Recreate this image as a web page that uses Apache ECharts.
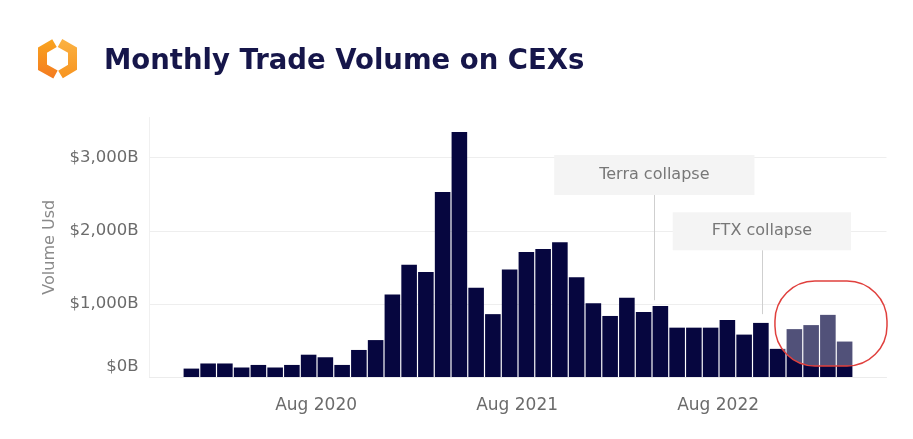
<!DOCTYPE html>
<html>
<head>
<meta charset="utf-8">
<script src="https://cdn.jsdelivr.net/npm/echarts@6/dist/echarts.min.js"></script>
<style>
html,body{margin:0;padding:0;background:#fff;}
#chart{width:913px;height:439px;}
</style>
</head>
<body>
<div id="chart"></div>
<script>
// ---- data ----
const titleText = 'Monthly Trade Volume on CEXs';
const yAxisName = 'Volume Usd';
const padBefore = ['Nov 2019', 'Dec 2019'];
const padAfter = ['May 2023', 'Jun 2023'];
const months = [
  'Jan 2020','Feb 2020','Mar 2020','Apr 2020','May 2020','Jun 2020','Jul 2020','Aug 2020','Sep 2020','Oct 2020','Nov 2020','Dec 2020',
  'Jan 2021','Feb 2021','Mar 2021','Apr 2021','May 2021','Jun 2021','Jul 2021','Aug 2021','Sep 2021','Oct 2021','Nov 2021','Dec 2021',
  'Jan 2022','Feb 2022','Mar 2022','Apr 2022','May 2022','Jun 2022','Jul 2022','Aug 2022','Sep 2022','Oct 2022','Nov 2022','Dec 2022',
  'Jan 2023','Feb 2023','Mar 2023','Apr 2023'
];
// monthly volume, billions USD
const volume = [
  115, 185, 185, 130, 165, 130, 165, 305, 270, 165, 370, 505,
  1130, 1535, 1435, 2530, 3350, 1220, 860, 1470, 1710, 1750, 1845, 1365,
  1010, 835, 1085, 890, 970, 675, 675, 675, 780, 580, 740, 385,
  655, 710, 850, 485
];
const yTicks = [0, 1000, 2000, 3000];
// annotations: month position (index into months), line start / end values
const events = [
  { name: 'Terra collapse', pos: 27.64, from: 1050, to: 2490 },
  { name: 'FTX collapse',   pos: 34.06, from: 860,  to: 1735 }
];
// highlighted region (month positions, values)
const highlight = { x0: 34.84, x1: 41.53, y0: 150, y1: 1313 };

const categories = [...padBefore, ...months, ...padAfter];
const barData = [...padBefore.map(() => null), ...volume, ...padAfter.map(() => null)];

const FONT = 'DejaVu Sans';
const chart = echarts.init(document.getElementById('chart'), null, { renderer: 'canvas' });

const boxPadding = [[12, 45], [11, 39]];

const option = {
  backgroundColor: '#ffffff',
  animation: false,
  title: {
    text: titleText,
    left: 99,
    top: 43,
    textStyle: { fontFamily: FONT, fontSize: 27.5, fontWeight: 'bold', color: '#16164a' }
  },
  grid: { left: 149.5, right: 26.5, top: 117.5, bottom: 62, containLabel: false },
  xAxis: [
    {
      type: 'category',
      data: categories,
      boundaryGap: true,
      axisLine: { show: true, lineStyle: { color: '#ececec', width: 1 } },
      axisTick: { show: false },
      splitLine: { show: false },
      axisLabel: {
        interval: (i, v) => v.indexOf('Aug') === 0,
        fontFamily: FONT, fontSize: 17, color: '#6b6b6b', margin: 20,
        padding: [0, 0, 0, 15]
      }
    },
    { type: 'value', min: -2.5, max: 41.5, show: false }
  ],
  yAxis: {
    type: 'value',
    min: 0,
    max: 3550,
    interval: 1000,
    name: yAxisName,
    nameLocation: 'middle',
    nameGap: 92,
    nameTextStyle: { fontFamily: FONT, fontSize: 16, color: '#8a8a8a' },
    axisLine: { show: true, onZero: false, lineStyle: { color: '#f0f0f0' } },
    axisTick: { show: false },
    splitLine: { show: true, showMaxLine: false, lineStyle: { color: '#eeeeee', width: 1 } },
    axisLabel: {
      fontFamily: FONT, fontSize: 16.5, color: '#6b6b6b', margin: 11,
      showMaxLabel: false,
      formatter: v => {
        if (yTicks.indexOf(v) < 0) return '';
        const s = '$' + v.toLocaleString('en-US') + 'B';
        return v === 0 ? '{z|' + s + '}' : s;
      },
      rich: { z: { fontFamily: FONT, fontSize: 16.5, color: '#6b6b6b', padding: [0, 0, 20, 0] } }
    }
  },
  series: [
    {
      type: 'bar',
      data: barData,
      barCategoryGap: '7%',
      itemStyle: { color: '#06063f' }
    },
    {
      type: 'scatter',
      xAxisIndex: 1,
      data: [],
      silent: true,
      markLine: {
        silent: true,
        symbol: ['none', 'none'],
        lineStyle: { color: '#cfcfcf', width: 1, type: 'solid' },
        label: {
          show: true,
          position: 'end',
          distance: 0,
          fontFamily: FONT, fontSize: 16, color: '#777777',
          backgroundColor: '#f4f4f4',
          formatter: p => p.name
        },
        data: events.map((e, i) => [
          { name: e.name, coord: [e.pos, e.from], label: { padding: boxPadding[i] } },
          { coord: [e.pos, e.to] }
        ])
      }
    }
  ]
};
chart.setOption(option);

// logo + highlight overlay (highlight positioned from data values)
const p0 = chart.convertToPixel({ xAxisIndex: 1, yAxisIndex: 0 }, [highlight.x0, highlight.y1]);
const p1 = chart.convertToPixel({ xAxisIndex: 1, yAxisIndex: 0 }, [highlight.x1, highlight.y0]);
const leftGrad = new echarts.graphic.LinearGradient(0, 0, 0, 1, [
  { offset: 0, color: '#f9a51f' }, { offset: 1, color: '#f47a20' }
]);
const rightGrad = new echarts.graphic.LinearGradient(0, 0, 0, 1, [
  { offset: 0, color: '#fbb344' }, { offset: 1, color: '#f7931e' }
]);
chart.setOption({
  graphic: [
    {
      type: 'polyline', z: 10,
      shape: { points: [[54.5, 43.2], [42.5, 50.2], [42.5, 67.3], [55.5, 74.5]] },
      style: { stroke: leftGrad, lineWidth: 9, fill: null, lineJoin: 'miter', lineCap: 'butt' }
    },
    {
      type: 'polyline', z: 10,
      shape: { points: [[60, 43], [72.5, 50.2], [72.5, 67.3], [60.5, 74.5]] },
      style: { stroke: rightGrad, lineWidth: 9, fill: null, lineJoin: 'miter', lineCap: 'butt' }
    },
    {
      type: 'rect', z: 50,
      shape: { x: p0[0], y: p0[1], width: p1[0] - p0[0], height: p1[1] - p0[1], r: 40 },
      style: { fill: 'rgba(255,255,255,0.3)', stroke: '#e0403d', lineWidth: 1.5 }
    }
  ]
});
</script>
</body>
</html>
